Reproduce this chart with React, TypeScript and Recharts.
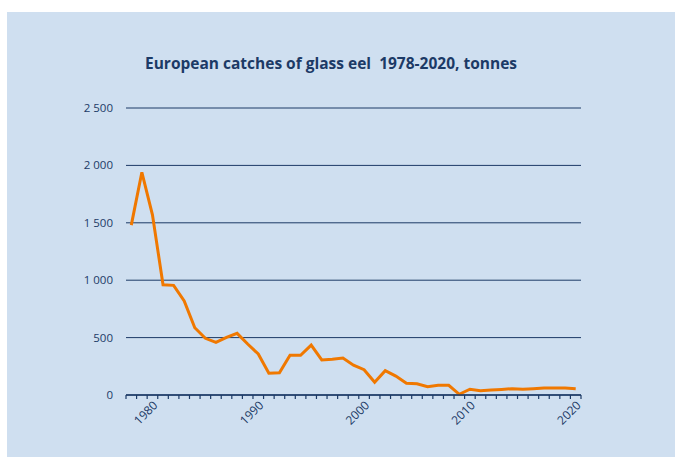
import { LineChart, Line, XAxis, YAxis, CartesianGrid } from "recharts";

const years = [
  1978, 1979, 1980, 1981, 1982, 1983, 1984, 1985, 1986, 1987, 1988, 1989,
  1990, 1991, 1992, 1993, 1994, 1995, 1996, 1997, 1998, 1999, 2000, 2001,
  2002, 2003, 2004, 2005, 2006, 2007, 2008, 2009, 2010, 2011, 2012, 2013,
  2014, 2015, 2016, 2017, 2018, 2019, 2020,
];

const catches = [
  1480, 1940, 1570, 960, 955, 820, 586, 494, 459, 502, 537, 444, 357, 189, 194,
  346, 346, 435, 305, 311, 322, 260, 220, 111, 212, 165, 102, 98, 72, 84, 84, 6,
  50, 38, 43, 48, 55, 50, 55, 61, 61, 61, 55,
];

const yTicks = [0, 500, 1000, 1500, 2000, 2500];
const yearLabels = [1980, 1990, 2000, 2010, 2020];
// tick marks sit between the years, like a category axis
const yearBounds = [...years.map((y) => y - 0.5), 2020.5];

const data = years.map((year, i) => ({ year, tonnes: catches[i] }));

const navy = "#1c3a66";
const font = "'Open Sans', sans-serif";

const formatThousands = (v: number) =>
  v >= 1000 ? `${Math.floor(v / 1000)} ${String(v % 1000).padStart(3, "0")}` : `${v}`;

const App = () => {
  return (
    <div
      style={{
        position: "absolute",
        left: 0,
        top: 0,
        width: 675,
        height: 457,
        background: "#ffffff",
        overflow: "hidden",
      }}
    >
      <div
        style={{
          position: "absolute",
          left: 7,
          top: 12,
          width: 668,
          height: 445,
          background: "#cfdff0",
        }}
      >
        <div
          style={{
            position: "absolute",
            left: 0,
            top: 40,
            width: 648,
            textAlign: "center",
            fontFamily: font,
            fontWeight: 700,
            fontSize: 15.5,
            color: navy,
            whiteSpace: "pre",
          }}
        >
          European catches of glass eel  1978-2020, tonnes
        </div>
        <div style={{ position: "absolute", left: 0, top: 0 }}>
          <LineChart
            width={668}
            height={445}
            data={data}
            margin={{ top: 96, right: 94, bottom: 0, left: 0 }}
          >
            <CartesianGrid horizontal vertical={false} stroke={navy} strokeWidth={1} />
            <XAxis
              dataKey="year"
              type="number"
              domain={[1977.5, 2020.5]}
              allowDataOverflow
              ticks={yearBounds}
              interval={0}
              height={4}
              tickSize={4}
              tickFormatter={() => ""}
              axisLine={{ stroke: navy, strokeWidth: 1.5 }}
              tickLine={{ stroke: navy, strokeWidth: 1.2 }}
            />
            <XAxis
              xAxisId="labels"
              dataKey="year"
              type="number"
              domain={[1977.5, 2020.5]}
              allowDataOverflow
              ticks={yearLabels}
              interval={0}
              height={58}
              axisLine={false}
              tickLine={false}
              tickSize={0}
              tickMargin={1}
              angle={-45}
              textAnchor="end"
              tick={{ fill: navy, fontSize: 12, fontFamily: font }}
            />
            <YAxis
              type="number"
              domain={[0, 2500]}
              ticks={yTicks}
              interval={0}
              width={119}
              axisLine={false}
              tickLine={false}
              tickMargin={7}
              tickFormatter={formatThousands}
              tick={{ fill: navy, fontSize: 11.5, fontFamily: font }}
            />
            <Line
              type="linear"
              dataKey="tonnes"
              stroke="#f07800"
              strokeWidth={3}
              dot={false}
              isAnimationActive={false}
            />
          </LineChart>
        </div>
      </div>
    </div>
  );
};

export default App;
